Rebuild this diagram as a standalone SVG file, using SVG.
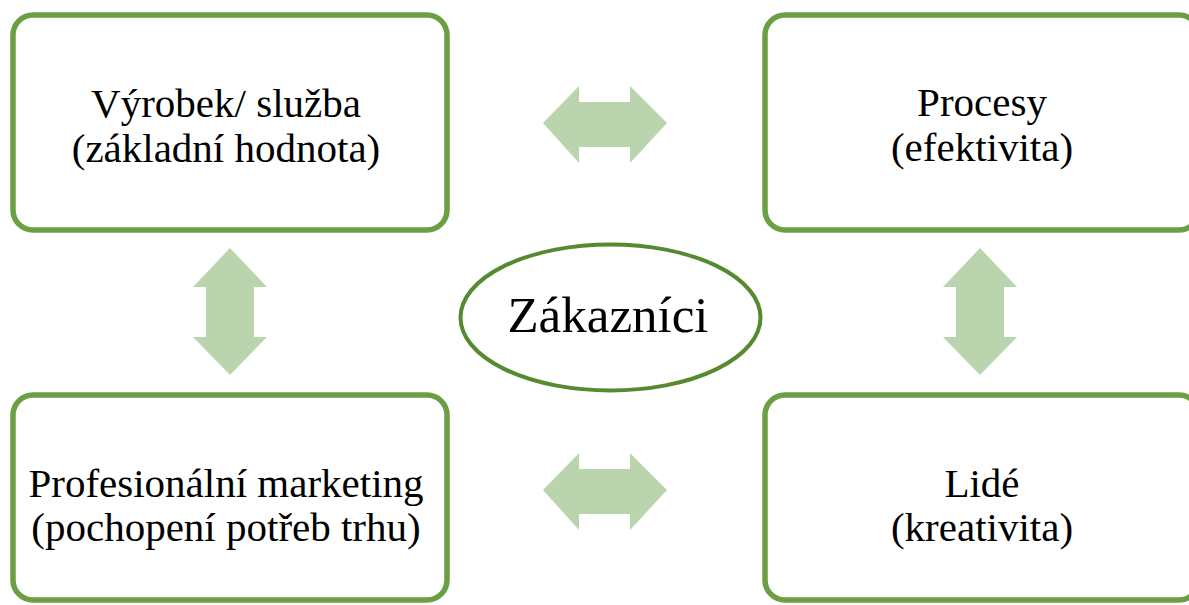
<svg xmlns="http://www.w3.org/2000/svg" width="1189" height="605" viewBox="0 0 1189 605">
<style>
.box{fill:#ffffff;stroke:#6b9f43;stroke-width:5.5}
.ell{fill:#ffffff;stroke:#558a30;stroke-width:4}
.arr{fill:#bad5ae}
.t{font-family:"Liberation Serif","Times New Roman",serif;font-size:41px;fill:#000000;text-anchor:middle}
.big{font-size:51px}
</style>
<rect width="1189" height="605" fill="#ffffff"/>
<g id="connectors">
<polygon class="arr" points="543,123 579,86 579,102 630,102 630,86 667,123 630,163 630,147 579,147 579,163"/>
<polygon class="arr" points="543,490 579,453 579,469 630,469 630,453 667,490 630,530 630,514 579,514 579,530"/>
<polygon class="arr" points="230,248 267,287 254,287 254,337 267,337 230,375 193,337 206,337 206,287 193,287"/>
<polygon class="arr" points="980,248 1017,287 1004,287 1004,337 1017,337 980,375 943,337 956,337 956,287 943,287"/>
</g>
<g id="node-vyrobek">
<rect class="box" x="13" y="15" width="434" height="215" rx="20"/>
<text class="t" x="226" y="117">Výrobek/ služba</text>
<text class="t" x="226" y="162">(základní hodnota)</text>
</g>
<g id="node-procesy">
<rect class="box" x="765" y="15" width="434" height="215" rx="20"/>
<text class="t" x="982" y="116">Procesy</text>
<text class="t" x="982" y="161">(efektivita)</text>
</g>
<g id="node-marketing">
<rect class="box" x="13" y="395" width="434" height="205" rx="20"/>
<text class="t" x="226" y="497">Profesionální marketing</text>
<text class="t" x="226" y="541">(pochopení potřeb trhu)</text>
</g>
<g id="node-lide">
<rect class="box" x="765" y="395" width="434" height="205" rx="20"/>
<text class="t" x="982" y="497">Lidé</text>
<text class="t" x="982" y="541">(kreativita)</text>
</g>
<g id="node-zakaznici">
<ellipse class="ell" cx="610.5" cy="317.5" rx="150" ry="73"/>
<text class="t big" x="608" y="332">Zákazníci</text>
</g>
</svg>
